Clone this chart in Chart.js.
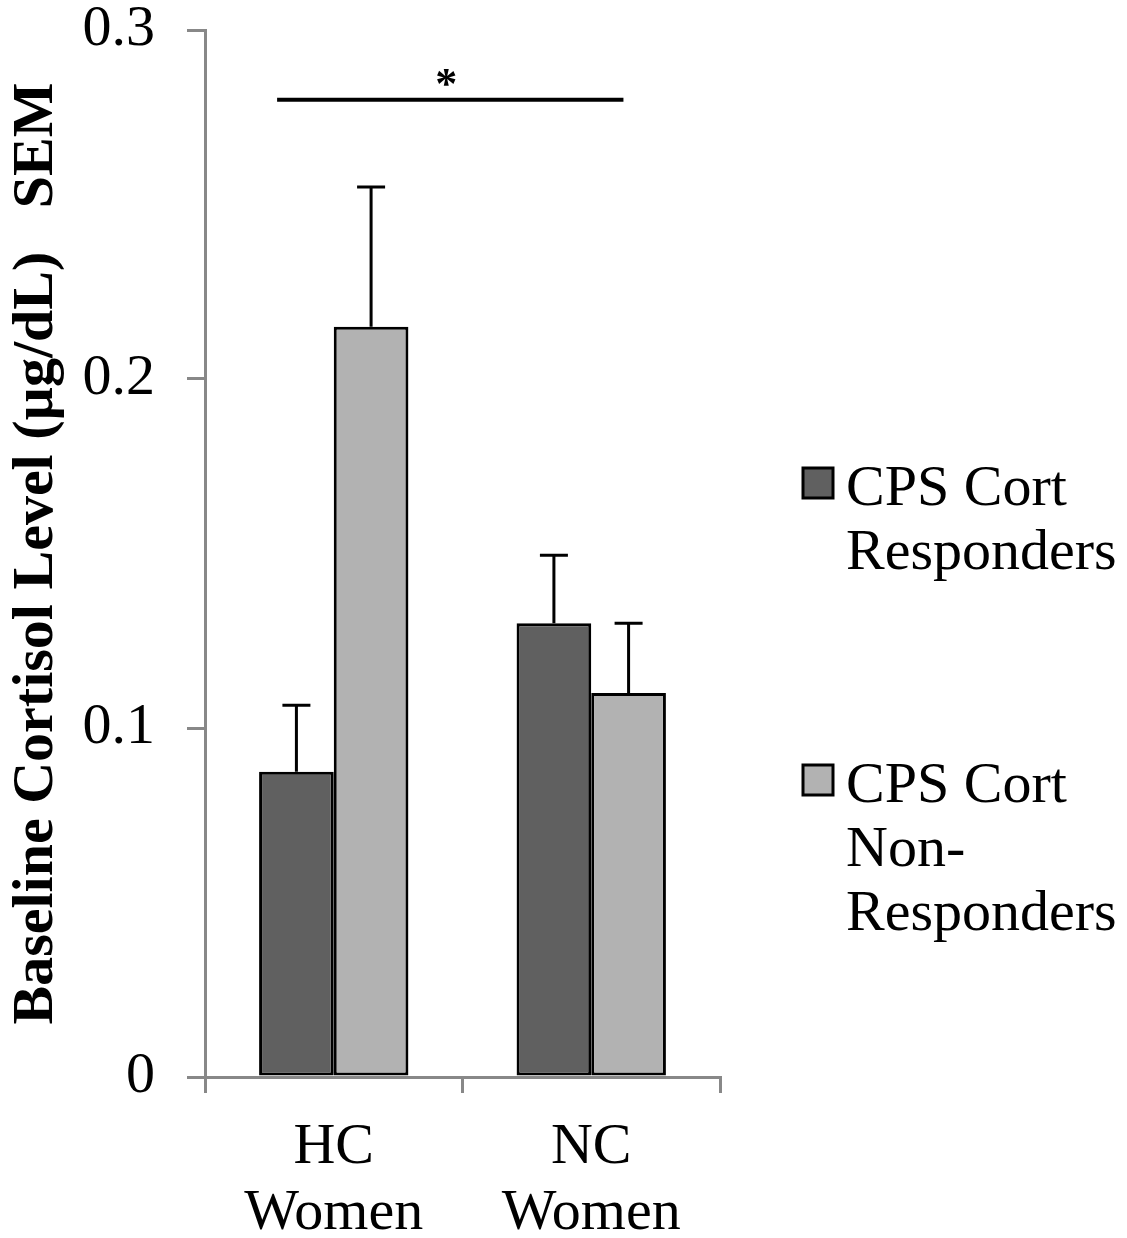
<!DOCTYPE html>
<html>
<head>
<meta charset="utf-8">
<script src="https://cdn.jsdelivr.net/npm/chart.js@4.4.0/dist/chart.umd.min.js"></script>
<style>
html,body{margin:0;padding:0;background:#fff;}
#wrap{width:1127px;height:1238px;position:relative;}
</style>
</head>
<body>
<div id="wrap"><canvas id="c" width="1127" height="1238"></canvas></div>
<script>
const categories = [["HC", "Women"], ["NC", "Women"]];
const seriesNames = [["CPS Cort", "Responders"], ["CPS Cort", "Non-", "Responders"]];
const responders = [0.0875, 0.130];
const nonResponders = [0.215, 0.110];
const respondersSEM = [0.019, 0.0195];
const nonRespondersSEM = [0.040, 0.020];
const yTicks = [0, 0.1, 0.2, 0.3];
const sigBracket = { from: -0.22, to: 1.125, value: 0.28, label: "*" };
const yTitle = "Baseline Cortisol Level (\u00b5g/dL)   SEM";

const DARK = '#606060', LIGHT = '#b2b2b2', AXIS = '#888888';
const SERIF = '"Liberation Serif", "Times New Roman", serif';
const FS = 58;

const errorBars = {
  id: 'errorBars',
  afterDatasetsDraw(chart) {
    const ctx = chart.ctx, y = chart.scales.y;
    const sems = [respondersSEM, nonRespondersSEM];
    ctx.save();
    ctx.strokeStyle = '#000'; ctx.lineWidth = 3;
    chart.data.datasets.forEach((ds, di) => {
      chart.getDatasetMeta(di).data.forEach((bar, i) => {
        const top = y.getPixelForValue(ds.data[i] + sems[di][i]);
        const cap = 14;
        ctx.beginPath();
        ctx.moveTo(bar.x, bar.y); ctx.lineTo(bar.x, top);
        ctx.moveTo(bar.x - cap, top); ctx.lineTo(bar.x + cap, top);
        ctx.stroke();
      });
    });
    // significance bracket
    const x = chart.scales.x;
    const x1 = x.getPixelForValue(sigBracket.from), x2 = x.getPixelForValue(sigBracket.to);
    const yy = y.getPixelForValue(sigBracket.value);
    ctx.lineWidth = 4;
    ctx.beginPath(); ctx.moveTo(x1, yy); ctx.lineTo(x2, yy); ctx.stroke();
    ctx.fillStyle = '#000';
    ctx.font = 'bold 44px ' + SERIF;
    ctx.textAlign = 'center'; ctx.textBaseline = 'alphabetic';
    ctx.fillText(sigBracket.label, (x1 + x2) / 2 - 4, yy - 2);
    ctx.restore();
  }
};

const legendPlugin = {
  id: 'customLegend',
  afterDraw(chart) {
    const ctx = chart.ctx;
    const left = chart.chartArea.right + 83;
    const colors = [DARK, LIGHT];
    const tops = [468, 765];
    const lh = 64;
    ctx.save();
    ctx.font = FS + 'px ' + SERIF;
    ctx.textAlign = 'left'; ctx.textBaseline = 'alphabetic';
    seriesNames.forEach((lines, i) => {
      ctx.fillStyle = colors[i];
      ctx.fillRect(left, tops[i], 30, 30);
      ctx.strokeStyle = '#000'; ctx.lineWidth = 3;
      ctx.strokeRect(left, tops[i], 30, 30);
      ctx.fillStyle = '#000';
      lines.forEach((t, k) => ctx.fillText(t, left + 43, tops[i] + 37 + k * lh));
    });
    ctx.restore();
  }
};

new Chart(document.getElementById('c'), {
  type: 'bar',
  data: {
    labels: categories,
    datasets: [
      { label: seriesNames[0].join(' '), data: responders, backgroundColor: DARK, borderColor: '#000', borderWidth: 3, borderSkipped: false },
      { label: seriesNames[1].join(' '), data: nonResponders, backgroundColor: LIGHT, borderColor: '#000', borderWidth: 3, borderSkipped: false }
    ]
  },
  options: {
    responsive: false,
    animation: false,
    events: [],
    layout: { padding: { left: 0, right: 407, top: 30, bottom: 0 } },
    datasets: { bar: { categoryPercentage: 0.58, barPercentage: 1.0 } },
    plugins: { legend: { display: false }, tooltip: { enabled: false } },
    scales: {
      x: {
        grid: { drawOnChartArea: false, color: AXIS, lineWidth: 3, tickLength: 16, offset: true },
        border: { color: AXIS, width: 3 },
        ticks: { color: '#000', font: { family: SERIF, size: FS, lineHeight: 1.15 }, padding: 21, maxRotation: 0, autoSkip: false },
        afterFit(s) { s.height = 161; s.paddingLeft = 0; s.paddingRight = 0; }
      },
      y: {
        min: 0, max: 0.3,
        afterBuildTicks(s) { s.ticks = yTicks.map(v => ({ value: v })); },
        grid: { drawOnChartArea: false, color: AXIS, lineWidth: 3, tickLength: 18 },
        border: { color: AXIS, width: 3 },
        ticks: { color: '#000', font: { family: SERIF, size: FS }, padding: 32, callback: v => String(v) },
        title: { display: true, text: yTitle, color: '#000', font: { family: SERIF, size: FS, weight: 'bold', lineHeight: 1 }, padding: { top: 8, bottom: 0 } },
        afterFit(s) { s.width = 205; s.paddingTop = 0; s.paddingBottom = 0; }
      }
    }
  },
  plugins: [errorBars, legendPlugin]
});
</script>
</body>
</html>
